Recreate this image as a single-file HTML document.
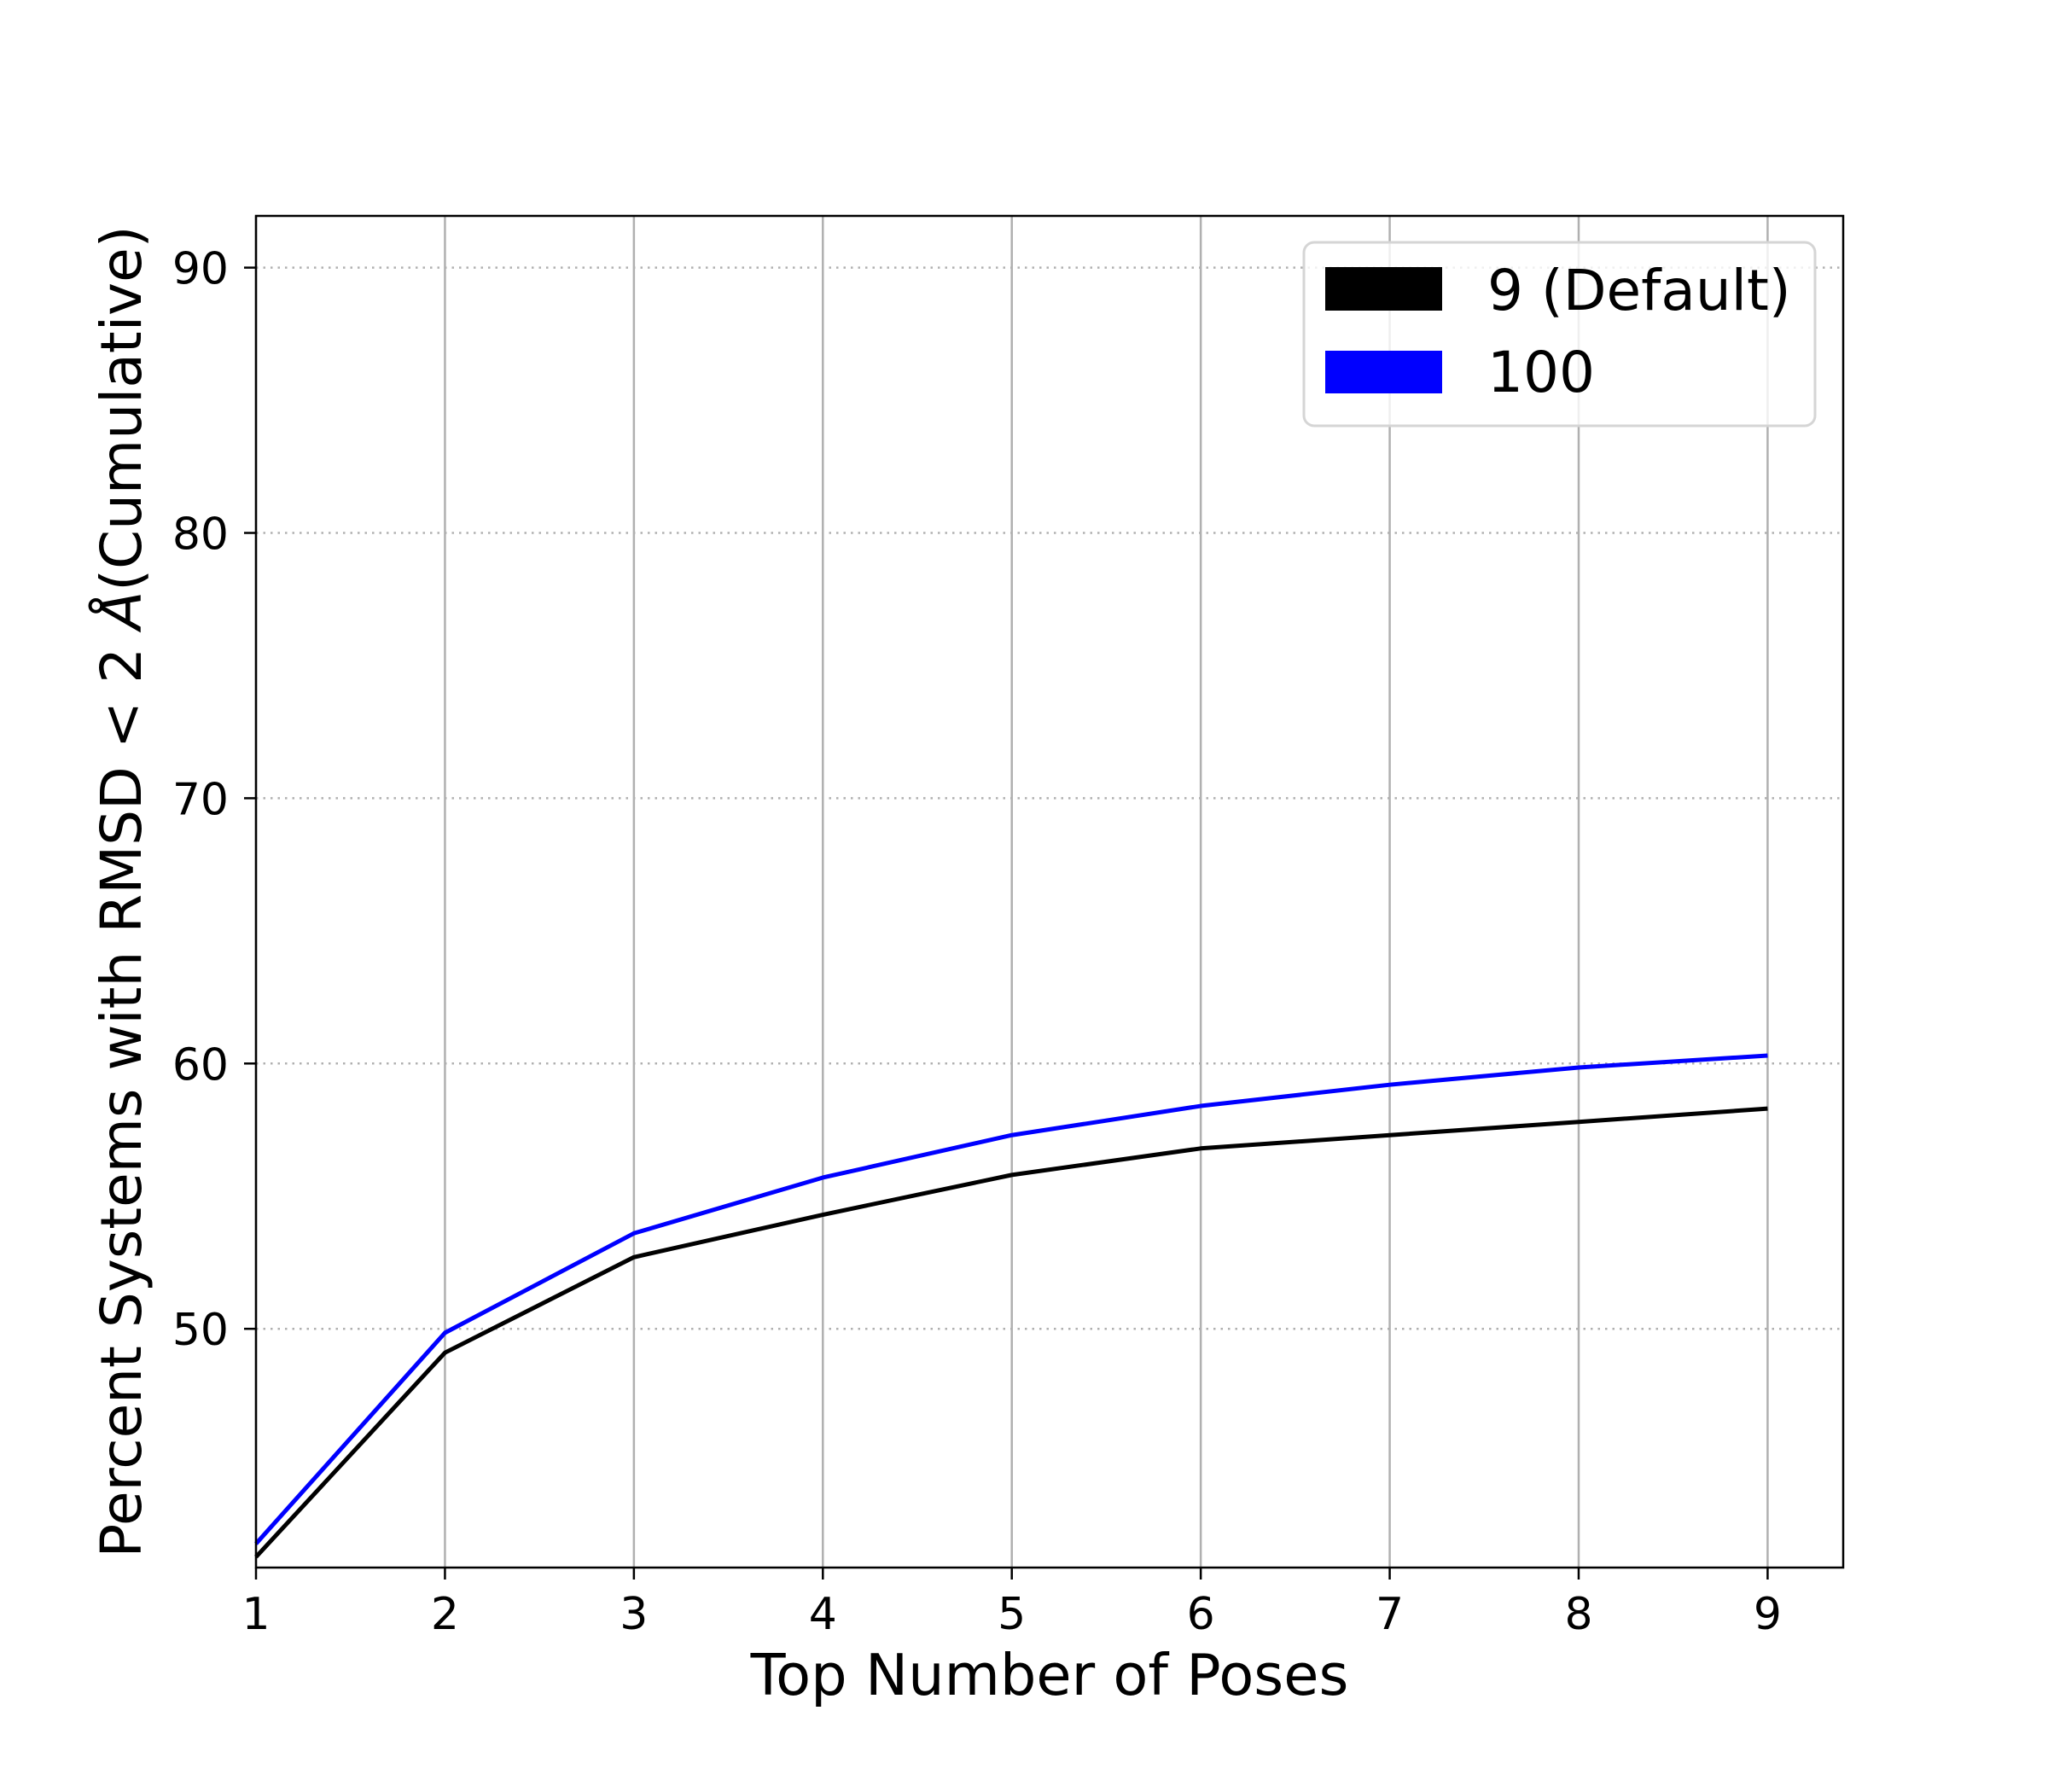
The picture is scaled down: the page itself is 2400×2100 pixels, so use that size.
<!DOCTYPE html>
<html><head><meta charset="utf-8"><style>
html,body{margin:0;padding:0;background:#fff;}
svg{display:block;font-family:"DejaVu Sans","Liberation Sans",sans-serif;}
</style></head><body>
<svg id="chart" width="2400" height="2100" viewBox="0 0 2400 2100" xmlns="http://www.w3.org/2000/svg">
<rect width="2400" height="2100" fill="#fff"/>
<g id="grid"></g>
<g id="series"></g>
<rect x="300" y="253" width="1860" height="1584" fill="none" stroke="#000" stroke-width="2.5"/>
<g id="ticks"></g>
<text x="1230" y="1986" font-size="67" text-anchor="middle">Top Number of Poses</text>
<text transform="translate(165,1045) rotate(-90)" font-size="66" text-anchor="middle">Percent Systems with RMSD &lt; 2 <tspan font-style="italic">Å</tspan>(Cumulative)</text>
<g>
<rect x="1528" y="284" width="599" height="215" rx="12" fill="#fff" fill-opacity="0.8" stroke="#d5d5d5" stroke-width="3"/>
<rect x="1553" y="313" width="137" height="51" fill="#000"/>
<text x="1743" y="363" font-size="66">9 (Default)</text>
<rect x="1553" y="411" width="137" height="50" fill="#0000ff"/>
<text x="1743" y="459" font-size="66">100</text>
</g>
</svg>
<script>
const categories = [1,2,3,4,5,6,7,8,9];
const defaultValues = [41.4,49.1,52.7,54.3,55.8,56.8,57.3,57.8,58.3];
const values100 = [41.9,49.85,53.6,55.7,57.3,58.4,59.2,59.85,60.3];
const xTicks = [1,2,3,4,5,6,7,8,9];
const yTicks = [50,60,70,80,90];

const NS = "http://www.w3.org/2000/svg";
const L = 300, R = 2160, T = 253, B = 1837;
const xMin = 1, xMax = 9.40, yMin = 41.0, yMax = 91.95;
function xs(v){ return L + (v - xMin) / (xMax - xMin) * (R - L); }
function ys(v){ return B - (v - yMin) / (yMax - yMin) * (B - T); }
function mk(tag, attrs, parent){
  const e = document.createElementNS(NS, tag);
  for (const k in attrs) e.setAttribute(k, attrs[k]);
  parent.appendChild(e);
  return e;
}
const grid = document.getElementById('grid');
const ticks = document.getElementById('ticks');
const series = document.getElementById('series');

xTicks.forEach(v => {
  const x = xs(v);
  const g = mk('line', {x1:x, x2:x, y1:T, y2:B, stroke:'#b0b0b0', 'stroke-width':2.5}, grid);
  
  
  const t = mk('line', {x1:x, x2:x, y1:B, y2:B+14, stroke:'#000', 'stroke-width':2.5}, ticks);
  
  
  const lb = mk('text', {x:x, y:1909, 'font-size':52, 'text-anchor':'middle'}, ticks);
  lb.textContent = v;
  
  
});
yTicks.forEach(v => {
  const y = ys(v);
  const g = mk('line', {x1:L, x2:R, y1:y, y2:y, stroke:'#b0b0b0', 'stroke-width':2.5, 'stroke-dasharray':'2.5 6'}, grid);
  
  
  const t = mk('line', {x1:L-14, x2:L, y1:y, y2:y, stroke:'#000', 'stroke-width':2.5}, ticks);
  
  
  const lb = mk('text', {x:268, y:y+19, 'font-size':52, 'text-anchor':'end'}, ticks);
  lb.textContent = v;
  
  
});
function drawLine(vals, color, name){
  const pts = vals.map((v,i) => xs(categories[i]) + ',' + ys(v)).join(' ');
  const p = mk('polyline', {points:pts, fill:'none', stroke:color, 'stroke-width':5, 'stroke-linejoin':'round'}, series);
  
  
}
drawLine(defaultValues, '#000', 'line-default');
drawLine(values100, '#0000ff', 'line-100');
</script>
</body></html>
